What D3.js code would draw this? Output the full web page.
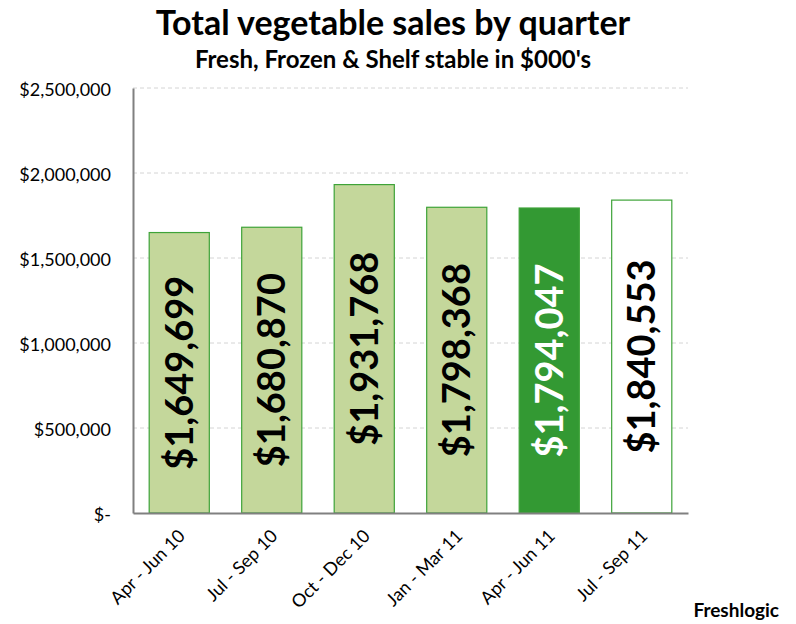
<!DOCTYPE html>
<html>
<head>
<meta charset="utf-8">
<script src="https://cdn.jsdelivr.net/npm/d3@7"></script>
<style>
  html, body { margin: 0; padding: 0; background: #fff; }
  svg { display: block; }
</style>
</head>
<body>
<div id="chart"></div>
<script>
// Quarterly totals (fresh, frozen & shelf stable), $000's
const quarters = ["Apr - Jun 10", "Jul - Sep 10", "Oct - Dec 10", "Jan - Mar 11", "Apr - Jun 11", "Jul - Sep 11"];
const sales = [1649699, 1680870, 1931768, 1798368, 1794047, 1840553];
const barFills = ["#c4d79b", "#c4d79b", "#c4d79b", "#c4d79b", "#339933", "#ffffff"];
const labelColors = ["#000", "#000", "#000", "#000", "#fff", "#000"];
const yTicks = [0, 500000, 1000000, 1500000, 2000000, 2500000];

const W = 796, H = 624;
const margin = { top: 88, right: 108, bottom: 111, left: 133 };
const font = "Lato, 'Open Sans', sans-serif";

const svg = d3.select("#chart").append("svg")
  .attr("width", W).attr("height", H)
  .style("font-family", font);

const x = d3.scaleBand()
  .domain(quarters)
  .range([margin.left, W - margin.right])
  .paddingInner(0.35)
  .paddingOuter(0.175);

const y = d3.scaleLinear()
  .domain([0, 2500000])
  .range([H - margin.bottom, margin.top]);

const fmtTick = v => v === 0 ? "$-" : "$" + d3.format(",")(v);
const fmtVal = v => "$" + d3.format(",")(v);

// Titles
svg.append("text")
  .attr("x", 393).attr("y", 35)
  .attr("text-anchor", "middle")
  .style("font-size", "34px").style("font-weight", "700")
  .text("Total vegetable sales by quarter");
svg.append("text")
  .attr("x", 393).attr("y", 68)
  .attr("text-anchor", "middle")
  .style("font-size", "24px").style("font-weight", "700")
  .text("Fresh, Frozen & Shelf stable in $000's");

// Dashed horizontal gridlines
svg.append("g")
  .selectAll("line")
  .data(yTicks.filter(d => d > 0))
  .join("line")
  .attr("x1", margin.left).attr("x2", W - margin.right)
  .attr("y1", d => y(d)).attr("y2", d => y(d))
  .attr("stroke", "#d4d4d4")
  .attr("stroke-dasharray", "4,3")
  .attr("stroke-width", 1);

// Y axis
const yAxis = svg.append("g")
  .attr("transform", `translate(${margin.left},0)`)
  .call(d3.axisLeft(y).tickValues(yTicks).tickFormat(fmtTick).tickSize(0).tickPadding(22));
yAxis.select(".domain").attr("stroke", "#808080").attr("stroke-width", 2);
yAxis.selectAll("text")
  .style("font-family", font).style("font-size", "18px").attr("fill", "#000")
  .attr("dy", "0.4em");

// Bars
svg.append("g")
  .selectAll("rect")
  .data(sales)
  .join("rect")
  .attr("x", (d, i) => x(quarters[i]))
  .attr("y", d => y(d))
  .attr("width", x.bandwidth())
  .attr("height", d => y(0) - y(d))
  .attr("fill", (d, i) => barFills[i])
  .attr("stroke", "#3ea338")
  .attr("stroke-width", 1.2);

// X axis
const xAxis = svg.append("g")
  .attr("transform", `translate(0,${y(0)})`)
  .call(d3.axisBottom(x).tickSize(0).tickPadding(0));
xAxis.select(".domain").attr("stroke", "#808080").attr("stroke-width", 2);
xAxis.selectAll("text")
  .style("font-family", font).style("font-size", "18px").attr("fill", "#000")
  .attr("text-anchor", "end")
  .attr("dy", 0)
  .attr("transform", "translate(7,24) rotate(-45)");

// Vertical value labels centred in each bar
svg.append("g")
  .selectAll("text")
  .data(sales)
  .join("text")
  .attr("transform", (d, i) => {
    const cx = x(quarters[i]) + x.bandwidth() / 2;
    const cy = (y(d) + y(0)) / 2;
    return `translate(${cx},${cy}) rotate(-90)`;
  })
  .attr("text-anchor", "middle")
  .attr("dy", "0.36em")
  .attr("fill", (d, i) => labelColors[i])
  .style("font-size", "38px").style("font-weight", "700")
  .text(fmtVal);

// Source
svg.append("text")
  .attr("x", 779).attr("y", 617)
  .attr("text-anchor", "end")
  .style("font-size", "19px").style("font-weight", "700")
  .text("Freshlogic");
</script>
</body>
</html>
